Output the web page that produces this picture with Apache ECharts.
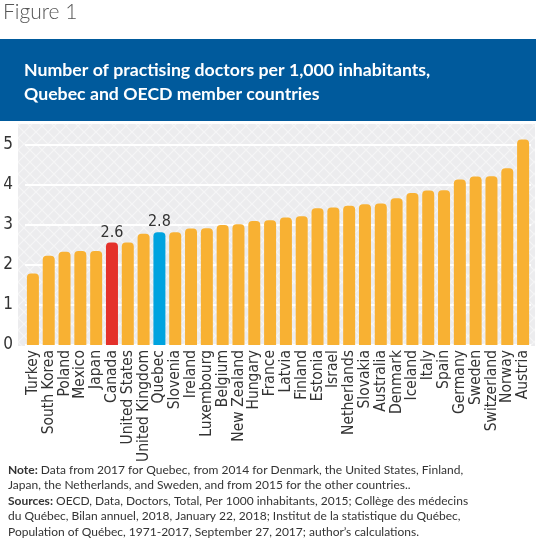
<!DOCTYPE html>
<html><head><meta charset="utf-8">
<script src="https://cdn.jsdelivr.net/npm/echarts@6/dist/echarts.min.js"></script>
<style>html,body{margin:0;padding:0;background:#fff}#c{width:536px;height:538px}</style>
</head><body><div id="c"></div>
<script>
const categories = ["Turkey","South Korea","Poland","Mexico","Japan","Canada","United States","United Kingdom","Quebec","Slovenia","Ireland","Luxembourg","Belgium","New Zealand","Hungary","France","Latvia","Finland","Estonia","Israel","Netherlands","Slovakia","Australia","Denmark","Iceland","Italy","Spain","Germany","Sweden","Switzerland","Norway","Austria"];
const values = [1.79,2.23,2.33,2.35,2.35,2.56,2.56,2.78,2.82,2.82,2.91,2.92,3.00,3.02,3.10,3.12,3.19,3.22,3.42,3.44,3.48,3.52,3.54,3.67,3.80,3.86,3.87,4.14,4.21,4.22,4.42,5.14];
const labelledCategories = ["Canada","Quebec"];
const yTicks = [0,1,2,3,4,5];
const titleLines = ["Number of practising doctors per 1,000 inhabitants,","Quebec and OECD member countries"];

const colors = {bar:'#F8B133', Canada:'#E4312B', Quebec:'#00A3DF'};

// crosshatch pattern
const pc = document.createElement('canvas');
pc.width = 12; pc.height = 12;
const g = pc.getContext('2d');
g.fillStyle = '#ECECEE'; g.fillRect(0,0,12,12);
g.strokeStyle = '#F5F5F6'; g.lineWidth = 1.2;
g.beginPath(); g.moveTo(0,0); g.lineTo(12,12); g.moveTo(12,0); g.lineTo(0,12); g.stroke();

const chart = echarts.init(document.getElementById('c'), null, {renderer:'canvas'});
const data = values.map((v,i)=>{
  const c = categories[i];
  const item = {value:v, itemStyle:{color: colors[c] || colors.bar}};
  if (labelledCategories.includes(c)) item.label = {show:true};
  return item;
});
const yMax = 5.5;
chart.setOption({
  animation:false,
  graphic:[
    {type:'text', left:3, top:2, style:{text:'Figure 1', font:'300 21px Lato', fill:'#555'}},
    {type:'rect', shape:{x:0,y:39,width:536,height:82}, style:{fill:'#005A9C'}, z:-5},
    {type:'text', left:24, top:58, style:{text:titleLines.join('\n'), font:'bold 17.7px Lato', fill:'#fff', lineHeight:24}},
    {type:'rect', shape:{x:18,y:124,width:517,height:222}, style:{fill:{image:pc, repeat:'repeat'}}, z:-10}
  ],
  title:{
    left:3, top:457,
    text:'{b|Note:} Data from 2017 for Quebec, from 2014 for Denmark, the United States, Finland,\nJapan, the Netherlands, and Sweden, and from 2015 for the other countries..\n{b|Sources:} OECD, Data, Doctors, Total, Per 1000 inhabitants, 2015; Collège des médecins\ndu Québec, Bilan annuel, 2018, January 22, 2018; Institut de la statistique du Québec,\nPopulation of Québec, 1971-2017, September 27, 2017; author\u2019s calculations.',
    textStyle:{fontFamily:'Lato', fontWeight:'normal', fontSize:12, color:'#333', lineHeight:15.5,
      rich:{b:{fontWeight:'bold', fontFamily:'Lato', fontSize:12, color:'#333', lineHeight:15.5}}}
  },
  grid:{left:25, right:5, top:125, bottom:193, containLabel:false},
  xAxis:{type:'category', data:categories,
    axisLine:{show:false}, axisTick:{show:false},
    axisLabel:{rotate:90, interval:0, fontSize:15.5, color:'#333', margin:5, fontFamily:'DejaVu Sans Condensed'}},
  yAxis:{type:'value', min:yTicks[0], max:yMax, interval:1,
    axisLine:{show:false}, axisTick:{show:false},
    splitLine:{lineStyle:{color:['#fff','#fff','#fff','#fff','#fff','#fff','rgba(0,0,0,0)'], width:2}},
    axisLabel:{fontSize:17, color:'#333', margin:12, fontFamily:'DejaVu Sans Condensed',
      formatter:v=> yTicks.includes(v) ? String(v) : ''}},
  series:[{type:'bar', data:data, barWidth:12,
    itemStyle:{borderRadius:[4,4,0,0]},
    label:{show:false, position:'top', distance:2, fontSize:16, color:'#333', fontFamily:'DejaVu Sans Condensed',
      formatter:p=>p.value.toFixed(1)}}]
});
</script></body></html>
